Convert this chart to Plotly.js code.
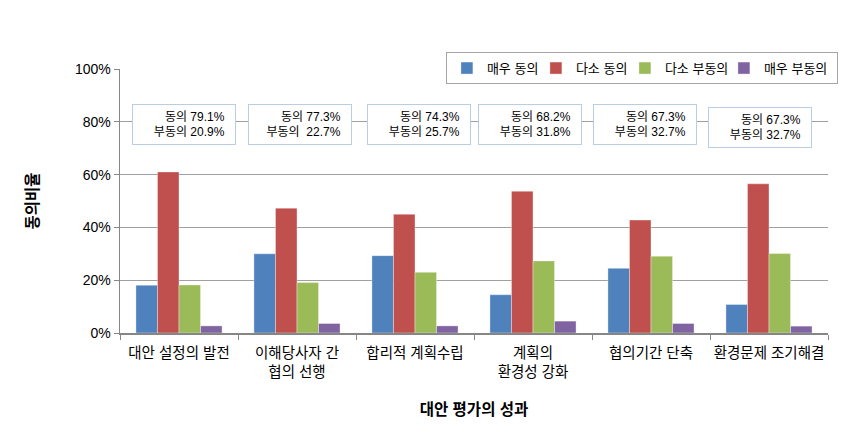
<!DOCTYPE html>
<html>
<head>
<meta charset="utf-8">
<script src="https://cdn.plot.ly/plotly-3.0.1.min.js"></script>
<style>html,body{margin:0;padding:0;background:#fff;}#chart{width:857px;height:435px;}</style>
</head>
<body>
<div id="chart"></div>
<script>
const categories = ['대안 설정의 발전', '이해당사자 간<br>협의 선행', '합리적 계획수립', '계획의<br>환경성 강화', '협의기간 단축', '환경문제 조기해결'];
const seriesNames = ['매우 동의', '다소 동의', '다소 부동의', '매우 부동의'];
const veryAgree = [18.1, 30.0, 29.3, 14.5, 24.5, 10.8];
const somewhatAgree = [61.0, 47.3, 45.0, 53.7, 42.8, 56.5];
const somewhatDisagree = [18.2, 19.1, 23.0, 27.3, 29.1, 30.1];
const veryDisagree = [2.7, 3.6, 2.7, 4.5, 3.6, 2.6];
const agreeTotals = ['79.1%', '77.3%', '74.3%', '68.2%', '67.3%', '67.3%'];
const disagreeTotals = ['20.9%', '22.7%', '25.7%', '31.8%', '32.7%', '32.7%'];
const yTickVals = [0, 20, 40, 60, 80, 100];
const yTickText = ['0%', '20%', '40%', '60%', '80%', '100%'];

const colors = ['#4f81bd', '#c0504d', '#9bbb59', '#8064a2'];
const legendWidths = [44, 44, 54, 68];
const allSeries = [veryAgree, somewhatAgree, somewhatDisagree, veryDisagree];
const font = 'Liberation Sans, Arial, "Noto Sans CJK KR", sans-serif';

const traces = allSeries.map((vals, i) => ({
  type: 'bar',
  name: seriesNames[i],
  x: categories,
  y: vals,
  legendwidth: legendWidths[i],
  marker: {color: colors[i], line: {color: 'rgba(255,255,255,0.6)', width: 0.6}},
  hoverinfo: 'none'
}));

const boxShift = [5, 3, 4, -3, -6, -9];
const boxY = [79, 79, 79, 79, 79, 78];
const annotations = categories.map((c, i) => ({
  x: i, y: boxY[i], xref: 'x', yref: 'y',
  text: '동의 ' + agreeTotals[i] + '\u00a0\u00a0<br>부동의 ' + (i === 1 ? '\u00a0' : '') + disagreeTotals[i] + '\u00a0\u00a0',
  showarrow: false, align: 'right', xshift: boxShift[i],
  width: 94, height: 31,
  bgcolor: '#ffffff', bordercolor: '#b9cde5', borderwidth: 1, borderpad: 4,
  font: {family: font, size: 12, color: '#000'}
}));

const layout = {
  width: 857, height: 435,
  margin: {l: 120, r: 29, t: 69, b: 102},
  paper_bgcolor: '#fff', plot_bgcolor: '#fff',
  barmode: 'group', bargap: 0.27, bargroupgap: 0,
  showlegend: true,
  legend: {
    orientation: 'h', x: 1.014, y: 1.064, xanchor: 'right', yanchor: 'top',
    bordercolor: '#a6a6a6', borderwidth: 1, bgcolor: '#fff',
    font: {family: font, size: 13, color: '#000'},
    itemwidth: 30, traceorder: 'normal'
  },
  xaxis: {
    type: 'category', range: [-0.5, 5.5], autorange: false,
    showline: true, linecolor: '#868686', linewidth: 1.5,
    ticks: 'outside', tickson: 'boundaries', ticklen: 5, tickcolor: '#868686',
    tickangle: 0, ticklabelstandoff: 6,
    tickfont: {family: font, size: 14.5, color: '#000'},
    showgrid: false, fixedrange: true,
    title: {text: '<b>대안 평가의 성과</b>', font: {family: font, size: 15.5, color: '#000'}, standoff: 25}
  },
  yaxis: {
    range: [0, 100], tickvals: yTickVals, ticktext: yTickText,
    showline: true, linecolor: '#868686', linewidth: 1.5,
    ticks: 'outside', ticklen: 5, tickcolor: '#868686',
    showgrid: true, gridcolor: '#a0a0a0', gridwidth: 1.3,
    zeroline: false,
    tickfont: {family: font, size: 14, color: '#000'},
    title: {text: '<b>동의비율</b>', font: {family: font, size: 15.5, color: '#000'}, standoff: 32},
    fixedrange: true
  },
  annotations: annotations
};

Plotly.newPlot('chart', traces, layout, {displayModeBar: false, staticPlot: true});
</script>
</body>
</html>
